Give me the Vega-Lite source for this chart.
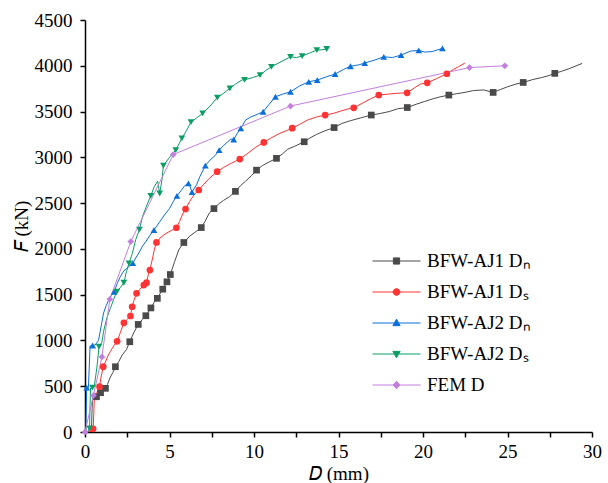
{
  "$schema": "https://vega.github.io/schema/vega-lite/v6.json",
  "width": 507,
  "height": 412,
  "autosize": {"type": "none"},
  "padding": {"left": 85, "top": 20, "right": 16, "bottom": 51},
  "background": "white",
  "config": {"view": {"stroke": null}},
  "datasets": {
    "curves": [
      {"series": "BFW-AJ1 Dₙ", "D": 0, "F": 0},
      {"series": "BFW-AJ1 Dₙ", "D": 0.38, "F": 0},
      {"series": "BFW-AJ1 Dₙ", "D": 0.42, "F": 250},
      {"series": "BFW-AJ1 Dₙ", "D": 0.45, "F": 385},
      {"series": "BFW-AJ1 Dₙ", "D": 0.68, "F": 385},
      {"series": "BFW-AJ1 Dₙ", "D": 0.8, "F": 400},
      {"series": "BFW-AJ1 Dₙ", "D": 0.92, "F": 429},
      {"series": "BFW-AJ1 Dₙ", "D": 1.04, "F": 440},
      {"series": "BFW-AJ1 Dₙ", "D": 1.21, "F": 477},
      {"series": "BFW-AJ1 Dₙ", "D": 1.33, "F": 520},
      {"series": "BFW-AJ1 Dₙ", "D": 1.5, "F": 600},
      {"series": "BFW-AJ1 Dₙ", "D": 1.65, "F": 650},
      {"series": "BFW-AJ1 Dₙ", "D": 1.8, "F": 713},
      {"series": "BFW-AJ1 Dₙ", "D": 2.0, "F": 770},
      {"series": "BFW-AJ1 Dₙ", "D": 2.2, "F": 840},
      {"series": "BFW-AJ1 Dₙ", "D": 2.45, "F": 900},
      {"series": "BFW-AJ1 Dₙ", "D": 2.65, "F": 986},
      {"series": "BFW-AJ1 Dₙ", "D": 2.9, "F": 1090},
      {"series": "BFW-AJ1 Dₙ", "D": 3.15, "F": 1175},
      {"series": "BFW-AJ1 Dₙ", "D": 3.4, "F": 1230},
      {"series": "BFW-AJ1 Dₙ", "D": 3.6, "F": 1270},
      {"series": "BFW-AJ1 Dₙ", "D": 3.9, "F": 1355},
      {"series": "BFW-AJ1 Dₙ", "D": 4.1, "F": 1420},
      {"series": "BFW-AJ1 Dₙ", "D": 4.28, "F": 1460},
      {"series": "BFW-AJ1 Dₙ", "D": 4.6, "F": 1560},
      {"series": "BFW-AJ1 Dₙ", "D": 4.85, "F": 1640},
      {"series": "BFW-AJ1 Dₙ", "D": 5.05, "F": 1720},
      {"series": "BFW-AJ1 Dₙ", "D": 5.3, "F": 1860},
      {"series": "BFW-AJ1 Dₙ", "D": 5.55, "F": 1990},
      {"series": "BFW-AJ1 Dₙ", "D": 5.85, "F": 2070},
      {"series": "BFW-AJ1 Dₙ", "D": 6.2, "F": 2140},
      {"series": "BFW-AJ1 Dₙ", "D": 6.5, "F": 2180},
      {"series": "BFW-AJ1 Dₙ", "D": 6.88, "F": 2233},
      {"series": "BFW-AJ1 Dₙ", "D": 7.1, "F": 2300},
      {"series": "BFW-AJ1 Dₙ", "D": 7.35, "F": 2390},
      {"series": "BFW-AJ1 Dₙ", "D": 7.63, "F": 2440},
      {"series": "BFW-AJ1 Dₙ", "D": 7.9, "F": 2490},
      {"series": "BFW-AJ1 Dₙ", "D": 8.2, "F": 2530},
      {"series": "BFW-AJ1 Dₙ", "D": 8.55, "F": 2570},
      {"series": "BFW-AJ1 Dₙ", "D": 8.9, "F": 2628},
      {"series": "BFW-AJ1 Dₙ", "D": 9.2, "F": 2690},
      {"series": "BFW-AJ1 Dₙ", "D": 9.5, "F": 2740},
      {"series": "BFW-AJ1 Dₙ", "D": 9.85, "F": 2800},
      {"series": "BFW-AJ1 Dₙ", "D": 10.15, "F": 2860},
      {"series": "BFW-AJ1 Dₙ", "D": 10.5, "F": 2910},
      {"series": "BFW-AJ1 Dₙ", "D": 10.9, "F": 2950},
      {"series": "BFW-AJ1 Dₙ", "D": 11.33, "F": 2989},
      {"series": "BFW-AJ1 Dₙ", "D": 11.7, "F": 3040},
      {"series": "BFW-AJ1 Dₙ", "D": 12.0, "F": 3090},
      {"series": "BFW-AJ1 Dₙ", "D": 12.4, "F": 3120},
      {"series": "BFW-AJ1 Dₙ", "D": 12.97, "F": 3170},
      {"series": "BFW-AJ1 Dₙ", "D": 13.3, "F": 3210},
      {"series": "BFW-AJ1 Dₙ", "D": 13.7, "F": 3250},
      {"series": "BFW-AJ1 Dₙ", "D": 14.2, "F": 3290},
      {"series": "BFW-AJ1 Dₙ", "D": 14.74, "F": 3325},
      {"series": "BFW-AJ1 Dₙ", "D": 15.2, "F": 3370},
      {"series": "BFW-AJ1 Dₙ", "D": 15.7, "F": 3400},
      {"series": "BFW-AJ1 Dₙ", "D": 16.3, "F": 3430},
      {"series": "BFW-AJ1 Dₙ", "D": 16.94, "F": 3462},
      {"series": "BFW-AJ1 Dₙ", "D": 17.5, "F": 3480},
      {"series": "BFW-AJ1 Dₙ", "D": 18.0, "F": 3500},
      {"series": "BFW-AJ1 Dₙ", "D": 18.5, "F": 3530},
      {"series": "BFW-AJ1 Dₙ", "D": 19.07, "F": 3544},
      {"series": "BFW-AJ1 Dₙ", "D": 19.6, "F": 3580},
      {"series": "BFW-AJ1 Dₙ", "D": 20.1, "F": 3610},
      {"series": "BFW-AJ1 Dₙ", "D": 20.6, "F": 3640},
      {"series": "BFW-AJ1 Dₙ", "D": 21.0, "F": 3660},
      {"series": "BFW-AJ1 Dₙ", "D": 21.53, "F": 3680},
      {"series": "BFW-AJ1 Dₙ", "D": 22.0, "F": 3695},
      {"series": "BFW-AJ1 Dₙ", "D": 22.5, "F": 3710},
      {"series": "BFW-AJ1 Dₙ", "D": 23.0, "F": 3730},
      {"series": "BFW-AJ1 Dₙ", "D": 23.6, "F": 3736},
      {"series": "BFW-AJ1 Dₙ", "D": 24.15, "F": 3709},
      {"series": "BFW-AJ1 Dₙ", "D": 24.6, "F": 3742},
      {"series": "BFW-AJ1 Dₙ", "D": 25.0, "F": 3770},
      {"series": "BFW-AJ1 Dₙ", "D": 25.5, "F": 3800},
      {"series": "BFW-AJ1 Dₙ", "D": 25.93, "F": 3818},
      {"series": "BFW-AJ1 Dₙ", "D": 26.5, "F": 3850},
      {"series": "BFW-AJ1 Dₙ", "D": 27.0, "F": 3870},
      {"series": "BFW-AJ1 Dₙ", "D": 27.4, "F": 3890},
      {"series": "BFW-AJ1 Dₙ", "D": 27.8, "F": 3917},
      {"series": "BFW-AJ1 Dₙ", "D": 28.2, "F": 3940},
      {"series": "BFW-AJ1 Dₙ", "D": 28.6, "F": 3965},
      {"series": "BFW-AJ1 Dₙ", "D": 29.0, "F": 3995},
      {"series": "BFW-AJ1 Dₙ", "D": 29.42, "F": 4026},

      {"series": "BFW-AJ1 Dₛ", "D": 0, "F": 0},
      {"series": "BFW-AJ1 Dₛ", "D": 0.3, "F": 0},
      {"series": "BFW-AJ1 Dₛ", "D": 0.48, "F": 35},
      {"series": "BFW-AJ1 Dₛ", "D": 0.52, "F": 200},
      {"series": "BFW-AJ1 Dₛ", "D": 0.56, "F": 400},
      {"series": "BFW-AJ1 Dₛ", "D": 0.7, "F": 430},
      {"series": "BFW-AJ1 Dₛ", "D": 0.86, "F": 495},
      {"series": "BFW-AJ1 Dₛ", "D": 0.95, "F": 600},
      {"series": "BFW-AJ1 Dₛ", "D": 1.08, "F": 713},
      {"series": "BFW-AJ1 Dₛ", "D": 1.2, "F": 760},
      {"series": "BFW-AJ1 Dₛ", "D": 1.35, "F": 830},
      {"series": "BFW-AJ1 Dₛ", "D": 1.5, "F": 880},
      {"series": "BFW-AJ1 Dₛ", "D": 1.7, "F": 940},
      {"series": "BFW-AJ1 Dₛ", "D": 1.9, "F": 990},
      {"series": "BFW-AJ1 Dₛ", "D": 2.1, "F": 1090},
      {"series": "BFW-AJ1 Dₛ", "D": 2.3, "F": 1193},
      {"series": "BFW-AJ1 Dₛ", "D": 2.5, "F": 1230},
      {"series": "BFW-AJ1 Dₛ", "D": 2.69, "F": 1267},
      {"series": "BFW-AJ1 Dₛ", "D": 2.79, "F": 1368},
      {"series": "BFW-AJ1 Dₛ", "D": 2.9, "F": 1440},
      {"series": "BFW-AJ1 Dₛ", "D": 3.05, "F": 1515},
      {"series": "BFW-AJ1 Dₛ", "D": 3.25, "F": 1560},
      {"series": "BFW-AJ1 Dₛ", "D": 3.48, "F": 1605},
      {"series": "BFW-AJ1 Dₛ", "D": 3.64, "F": 1631},
      {"series": "BFW-AJ1 Dₛ", "D": 3.75, "F": 1720},
      {"series": "BFW-AJ1 Dₛ", "D": 3.84, "F": 1769},
      {"series": "BFW-AJ1 Dₛ", "D": 4.0, "F": 1900},
      {"series": "BFW-AJ1 Dₛ", "D": 4.1, "F": 1990},
      {"series": "BFW-AJ1 Dₛ", "D": 4.23, "F": 2071},
      {"series": "BFW-AJ1 Dₛ", "D": 4.5, "F": 2130},
      {"series": "BFW-AJ1 Dₛ", "D": 4.8, "F": 2170},
      {"series": "BFW-AJ1 Dₛ", "D": 5.1, "F": 2200},
      {"series": "BFW-AJ1 Dₛ", "D": 5.41, "F": 2231},
      {"series": "BFW-AJ1 Dₛ", "D": 5.6, "F": 2300},
      {"series": "BFW-AJ1 Dₛ", "D": 5.8, "F": 2390},
      {"series": "BFW-AJ1 Dₛ", "D": 5.95, "F": 2435},
      {"series": "BFW-AJ1 Dₛ", "D": 6.2, "F": 2520},
      {"series": "BFW-AJ1 Dₛ", "D": 6.45, "F": 2590},
      {"series": "BFW-AJ1 Dₛ", "D": 6.73, "F": 2643},
      {"series": "BFW-AJ1 Dₛ", "D": 7.0, "F": 2700},
      {"series": "BFW-AJ1 Dₛ", "D": 7.3, "F": 2760},
      {"series": "BFW-AJ1 Dₛ", "D": 7.6, "F": 2810},
      {"series": "BFW-AJ1 Dₛ", "D": 7.82, "F": 2843},
      {"series": "BFW-AJ1 Dₛ", "D": 8.2, "F": 2890},
      {"series": "BFW-AJ1 Dₛ", "D": 8.6, "F": 2930},
      {"series": "BFW-AJ1 Dₛ", "D": 9.16, "F": 2981},
      {"series": "BFW-AJ1 Dₛ", "D": 9.6, "F": 3040},
      {"series": "BFW-AJ1 Dₛ", "D": 10.1, "F": 3110},
      {"series": "BFW-AJ1 Dₛ", "D": 10.58, "F": 3163},
      {"series": "BFW-AJ1 Dₛ", "D": 11.0, "F": 3210},
      {"series": "BFW-AJ1 Dₛ", "D": 11.5, "F": 3260},
      {"series": "BFW-AJ1 Dₛ", "D": 11.9, "F": 3290},
      {"series": "BFW-AJ1 Dₛ", "D": 12.26, "F": 3318},
      {"series": "BFW-AJ1 Dₛ", "D": 12.7, "F": 3360},
      {"series": "BFW-AJ1 Dₛ", "D": 13.2, "F": 3410},
      {"series": "BFW-AJ1 Dₛ", "D": 13.7, "F": 3440},
      {"series": "BFW-AJ1 Dₛ", "D": 14.21, "F": 3462},
      {"series": "BFW-AJ1 Dₛ", "D": 14.7, "F": 3480},
      {"series": "BFW-AJ1 Dₛ", "D": 15.2, "F": 3510},
      {"series": "BFW-AJ1 Dₛ", "D": 15.6, "F": 3530},
      {"series": "BFW-AJ1 Dₛ", "D": 15.9, "F": 3541},
      {"series": "BFW-AJ1 Dₛ", "D": 16.4, "F": 3590},
      {"series": "BFW-AJ1 Dₛ", "D": 16.9, "F": 3640},
      {"series": "BFW-AJ1 Dₛ", "D": 17.38, "F": 3680},
      {"series": "BFW-AJ1 Dₛ", "D": 17.9, "F": 3690},
      {"series": "BFW-AJ1 Dₛ", "D": 18.5, "F": 3700},
      {"series": "BFW-AJ1 Dₛ", "D": 19.06, "F": 3705},
      {"series": "BFW-AJ1 Dₛ", "D": 19.5, "F": 3760},
      {"series": "BFW-AJ1 Dₛ", "D": 19.85, "F": 3800},
      {"series": "BFW-AJ1 Dₛ", "D": 20.25, "F": 3814},
      {"series": "BFW-AJ1 Dₛ", "D": 20.8, "F": 3860},
      {"series": "BFW-AJ1 Dₛ", "D": 21.41, "F": 3913},
      {"series": "BFW-AJ1 Dₛ", "D": 21.8, "F": 3960},
      {"series": "BFW-AJ1 Dₛ", "D": 22.1, "F": 3990},
      {"series": "BFW-AJ1 Dₛ", "D": 22.48, "F": 4030},

      {"series": "BFW-AJ2 Dₙ", "D": 0, "F": 0},
      {"series": "BFW-AJ2 Dₙ", "D": 0.05, "F": 0},
      {"series": "BFW-AJ2 Dₙ", "D": 0.08, "F": 300},
      {"series": "BFW-AJ2 Dₙ", "D": 0.1, "F": 484},
      {"series": "BFW-AJ2 Dₙ", "D": 0.2, "F": 484},
      {"series": "BFW-AJ2 Dₙ", "D": 0.25, "F": 700},
      {"series": "BFW-AJ2 Dₙ", "D": 0.3, "F": 940},
      {"series": "BFW-AJ2 Dₙ", "D": 0.45, "F": 945},
      {"series": "BFW-AJ2 Dₙ", "D": 0.6, "F": 950},
      {"series": "BFW-AJ2 Dₙ", "D": 0.8, "F": 1000},
      {"series": "BFW-AJ2 Dₙ", "D": 0.9, "F": 1100},
      {"series": "BFW-AJ2 Dₙ", "D": 1.0, "F": 1200},
      {"series": "BFW-AJ2 Dₙ", "D": 1.1, "F": 1300},
      {"series": "BFW-AJ2 Dₙ", "D": 1.25, "F": 1380},
      {"series": "BFW-AJ2 Dₙ", "D": 1.4, "F": 1440},
      {"series": "BFW-AJ2 Dₙ", "D": 1.55, "F": 1490},
      {"series": "BFW-AJ2 Dₙ", "D": 1.72, "F": 1530},
      {"series": "BFW-AJ2 Dₙ", "D": 1.9, "F": 1620},
      {"series": "BFW-AJ2 Dₙ", "D": 2.1, "F": 1700},
      {"series": "BFW-AJ2 Dₙ", "D": 2.3, "F": 1760},
      {"series": "BFW-AJ2 Dₙ", "D": 2.55, "F": 1800},
      {"series": "BFW-AJ2 Dₙ", "D": 2.83, "F": 1845},
      {"series": "BFW-AJ2 Dₙ", "D": 3.0, "F": 1900},
      {"series": "BFW-AJ2 Dₙ", "D": 3.2, "F": 1960},
      {"series": "BFW-AJ2 Dₙ", "D": 3.4, "F": 2030},
      {"series": "BFW-AJ2 Dₙ", "D": 3.6, "F": 2080},
      {"series": "BFW-AJ2 Dₙ", "D": 3.85, "F": 2150},
      {"series": "BFW-AJ2 Dₙ", "D": 4.08, "F": 2206},
      {"series": "BFW-AJ2 Dₙ", "D": 4.4, "F": 2290},
      {"series": "BFW-AJ2 Dₙ", "D": 4.7, "F": 2370},
      {"series": "BFW-AJ2 Dₙ", "D": 5.0, "F": 2440},
      {"series": "BFW-AJ2 Dₙ", "D": 5.2, "F": 2510},
      {"series": "BFW-AJ2 Dₙ", "D": 5.44, "F": 2580},
      {"series": "BFW-AJ2 Dₙ", "D": 5.7, "F": 2640},
      {"series": "BFW-AJ2 Dₙ", "D": 5.9, "F": 2690},
      {"series": "BFW-AJ2 Dₙ", "D": 6.12, "F": 2716},
      {"series": "BFW-AJ2 Dₙ", "D": 6.22, "F": 2680},
      {"series": "BFW-AJ2 Dₙ", "D": 6.33, "F": 2620},
      {"series": "BFW-AJ2 Dₙ", "D": 6.6, "F": 2700},
      {"series": "BFW-AJ2 Dₙ", "D": 6.8, "F": 2790},
      {"series": "BFW-AJ2 Dₙ", "D": 7.12, "F": 2910},
      {"series": "BFW-AJ2 Dₙ", "D": 7.4, "F": 2970},
      {"series": "BFW-AJ2 Dₙ", "D": 7.7, "F": 3020},
      {"series": "BFW-AJ2 Dₙ", "D": 7.94, "F": 3079},
      {"series": "BFW-AJ2 Dₙ", "D": 8.2, "F": 3130},
      {"series": "BFW-AJ2 Dₙ", "D": 8.45, "F": 3170},
      {"series": "BFW-AJ2 Dₙ", "D": 8.63, "F": 3200},
      {"series": "BFW-AJ2 Dₙ", "D": 8.8, "F": 3195},
      {"series": "BFW-AJ2 Dₙ", "D": 9.0, "F": 3260},
      {"series": "BFW-AJ2 Dₙ", "D": 9.22, "F": 3316},
      {"series": "BFW-AJ2 Dₙ", "D": 9.5, "F": 3407},
      {"series": "BFW-AJ2 Dₙ", "D": 9.8, "F": 3440},
      {"series": "BFW-AJ2 Dₙ", "D": 10.2, "F": 3470},
      {"series": "BFW-AJ2 Dₙ", "D": 10.54, "F": 3498},
      {"series": "BFW-AJ2 Dₙ", "D": 10.9, "F": 3580},
      {"series": "BFW-AJ2 Dₙ", "D": 11.27, "F": 3662},
      {"series": "BFW-AJ2 Dₙ", "D": 11.7, "F": 3690},
      {"series": "BFW-AJ2 Dₙ", "D": 12.16, "F": 3716},
      {"series": "BFW-AJ2 Dₙ", "D": 12.7, "F": 3780},
      {"series": "BFW-AJ2 Dₙ", "D": 13.24, "F": 3825},
      {"series": "BFW-AJ2 Dₙ", "D": 13.74, "F": 3844},
      {"series": "BFW-AJ2 Dₙ", "D": 14.3, "F": 3880},
      {"series": "BFW-AJ2 Dₙ", "D": 14.8, "F": 3910},
      {"series": "BFW-AJ2 Dₙ", "D": 15.3, "F": 3960},
      {"series": "BFW-AJ2 Dₙ", "D": 15.71, "F": 3995},
      {"series": "BFW-AJ2 Dₙ", "D": 16.2, "F": 4010},
      {"series": "BFW-AJ2 Dₙ", "D": 16.55, "F": 4030},
      {"series": "BFW-AJ2 Dₙ", "D": 17.1, "F": 4060},
      {"series": "BFW-AJ2 Dₙ", "D": 17.68, "F": 4098},
      {"series": "BFW-AJ2 Dₙ", "D": 18.2, "F": 4090},
      {"series": "BFW-AJ2 Dₙ", "D": 18.7, "F": 4117},
      {"series": "BFW-AJ2 Dₙ", "D": 19.26, "F": 4160},
      {"series": "BFW-AJ2 Dₙ", "D": 19.75, "F": 4168},
      {"series": "BFW-AJ2 Dₙ", "D": 20.1, "F": 4150},
      {"series": "BFW-AJ2 Dₙ", "D": 20.54, "F": 4155},
      {"series": "BFW-AJ2 Dₙ", "D": 21.15, "F": 4190},

      {"series": "BFW-AJ2 Dₛ", "D": 0, "F": 0},
      {"series": "BFW-AJ2 Dₛ", "D": 0.15, "F": 0},
      {"series": "BFW-AJ2 Dₛ", "D": 0.27, "F": 40},
      {"series": "BFW-AJ2 Dₛ", "D": 0.3, "F": 300},
      {"series": "BFW-AJ2 Dₛ", "D": 0.33, "F": 480},
      {"series": "BFW-AJ2 Dₛ", "D": 0.44, "F": 485},
      {"series": "BFW-AJ2 Dₛ", "D": 0.55, "F": 500},
      {"series": "BFW-AJ2 Dₛ", "D": 0.7, "F": 700},
      {"series": "BFW-AJ2 Dₛ", "D": 0.83, "F": 932},
      {"series": "BFW-AJ2 Dₛ", "D": 1.0, "F": 980},
      {"series": "BFW-AJ2 Dₛ", "D": 1.1, "F": 1100},
      {"series": "BFW-AJ2 Dₛ", "D": 1.3, "F": 1250},
      {"series": "BFW-AJ2 Dₛ", "D": 1.5, "F": 1350},
      {"series": "BFW-AJ2 Dₛ", "D": 1.7, "F": 1450},
      {"series": "BFW-AJ2 Dₛ", "D": 1.88, "F": 1532},
      {"series": "BFW-AJ2 Dₛ", "D": 2.1, "F": 1580},
      {"series": "BFW-AJ2 Dₛ", "D": 2.3, "F": 1630},
      {"series": "BFW-AJ2 Dₛ", "D": 2.45, "F": 1750},
      {"series": "BFW-AJ2 Dₛ", "D": 2.6, "F": 1842},
      {"series": "BFW-AJ2 Dₛ", "D": 2.8, "F": 1950},
      {"series": "BFW-AJ2 Dₛ", "D": 3.0, "F": 2100},
      {"series": "BFW-AJ2 Dₛ", "D": 3.22, "F": 2210},
      {"series": "BFW-AJ2 Dₛ", "D": 3.4, "F": 2350},
      {"series": "BFW-AJ2 Dₛ", "D": 3.6, "F": 2450},
      {"series": "BFW-AJ2 Dₛ", "D": 3.89, "F": 2580},
      {"series": "BFW-AJ2 Dₛ", "D": 4.1, "F": 2680},
      {"series": "BFW-AJ2 Dₛ", "D": 4.3, "F": 2740},
      {"series": "BFW-AJ2 Dₛ", "D": 4.42, "F": 2605},
      {"series": "BFW-AJ2 Dₛ", "D": 4.55, "F": 2750},
      {"series": "BFW-AJ2 Dₛ", "D": 4.64, "F": 2910},
      {"series": "BFW-AJ2 Dₛ", "D": 5.0, "F": 3000},
      {"series": "BFW-AJ2 Dₛ", "D": 5.37, "F": 3079},
      {"series": "BFW-AJ2 Dₛ", "D": 5.73, "F": 3207},
      {"series": "BFW-AJ2 Dₛ", "D": 6.0, "F": 3290},
      {"series": "BFW-AJ2 Dₛ", "D": 6.27, "F": 3385},
      {"series": "BFW-AJ2 Dₛ", "D": 6.6, "F": 3430},
      {"series": "BFW-AJ2 Dₛ", "D": 6.96, "F": 3480},
      {"series": "BFW-AJ2 Dₛ", "D": 7.4, "F": 3560},
      {"series": "BFW-AJ2 Dₛ", "D": 7.83, "F": 3653},
      {"series": "BFW-AJ2 Dₛ", "D": 8.2, "F": 3700},
      {"series": "BFW-AJ2 Dₛ", "D": 8.57, "F": 3753},
      {"series": "BFW-AJ2 Dₛ", "D": 8.9, "F": 3800},
      {"series": "BFW-AJ2 Dₛ", "D": 9.3, "F": 3846},
      {"series": "BFW-AJ2 Dₛ", "D": 9.44, "F": 3846},
      {"series": "BFW-AJ2 Dₛ", "D": 9.9, "F": 3870},
      {"series": "BFW-AJ2 Dₛ", "D": 10.36, "F": 3898},
      {"series": "BFW-AJ2 Dₛ", "D": 10.7, "F": 3950},
      {"series": "BFW-AJ2 Dₛ", "D": 11.03, "F": 3989},
      {"series": "BFW-AJ2 Dₛ", "D": 11.6, "F": 4044},
      {"series": "BFW-AJ2 Dₛ", "D": 12.16, "F": 4098},
      {"series": "BFW-AJ2 Dₛ", "D": 12.5, "F": 4090},
      {"series": "BFW-AJ2 Dₛ", "D": 12.85, "F": 4106},
      {"series": "BFW-AJ2 Dₛ", "D": 13.3, "F": 4140},
      {"series": "BFW-AJ2 Dₛ", "D": 13.72, "F": 4171},
      {"series": "BFW-AJ2 Dₛ", "D": 14.0, "F": 4175},
      {"series": "BFW-AJ2 Dₛ", "D": 14.4, "F": 4185},

      {"series": "FEM D", "D": 0, "F": 0},
      {"series": "FEM D", "D": 0.5, "F": 400},
      {"series": "FEM D", "D": 1.0, "F": 820},
      {"series": "FEM D", "D": 1.47, "F": 1450},
      {"series": "FEM D", "D": 2.71, "F": 2080},
      {"series": "FEM D", "D": 5.22, "F": 3030},
      {"series": "FEM D", "D": 12.16, "F": 3560},
      {"series": "FEM D", "D": 22.75, "F": 3980},
      {"series": "FEM D", "D": 24.84, "F": 4000}
    ],
    "markers": [
      {"series": "BFW-AJ1 Dₙ", "D": 0.68, "F": 385},
      {"series": "BFW-AJ1 Dₙ", "D": 0.92, "F": 429},
      {"series": "BFW-AJ1 Dₙ", "D": 1.21, "F": 477},
      {"series": "BFW-AJ1 Dₙ", "D": 1.8, "F": 713},
      {"series": "BFW-AJ1 Dₙ", "D": 2.65, "F": 986},
      {"series": "BFW-AJ1 Dₙ", "D": 3.15, "F": 1175},
      {"series": "BFW-AJ1 Dₙ", "D": 3.6, "F": 1270},
      {"series": "BFW-AJ1 Dₙ", "D": 3.9, "F": 1355},
      {"series": "BFW-AJ1 Dₙ", "D": 4.28, "F": 1460},
      {"series": "BFW-AJ1 Dₙ", "D": 4.6, "F": 1560},
      {"series": "BFW-AJ1 Dₙ", "D": 4.85, "F": 1640},
      {"series": "BFW-AJ1 Dₙ", "D": 5.05, "F": 1720},
      {"series": "BFW-AJ1 Dₙ", "D": 5.85, "F": 2070},
      {"series": "BFW-AJ1 Dₙ", "D": 6.88, "F": 2233},
      {"series": "BFW-AJ1 Dₙ", "D": 7.63, "F": 2440},
      {"series": "BFW-AJ1 Dₙ", "D": 8.9, "F": 2628},
      {"series": "BFW-AJ1 Dₙ", "D": 10.15, "F": 2860},
      {"series": "BFW-AJ1 Dₙ", "D": 11.33, "F": 2989},
      {"series": "BFW-AJ1 Dₙ", "D": 12.97, "F": 3170},
      {"series": "BFW-AJ1 Dₙ", "D": 14.74, "F": 3325},
      {"series": "BFW-AJ1 Dₙ", "D": 16.94, "F": 3462},
      {"series": "BFW-AJ1 Dₙ", "D": 19.07, "F": 3544},
      {"series": "BFW-AJ1 Dₙ", "D": 21.53, "F": 3680},
      {"series": "BFW-AJ1 Dₙ", "D": 24.15, "F": 3709},
      {"series": "BFW-AJ1 Dₙ", "D": 25.93, "F": 3818},
      {"series": "BFW-AJ1 Dₙ", "D": 27.8, "F": 3917},

      {"series": "BFW-AJ1 Dₛ", "D": 0.48, "F": 35},
      {"series": "BFW-AJ1 Dₛ", "D": 0.86, "F": 495},
      {"series": "BFW-AJ1 Dₛ", "D": 1.08, "F": 713},
      {"series": "BFW-AJ1 Dₛ", "D": 1.9, "F": 990},
      {"series": "BFW-AJ1 Dₛ", "D": 2.3, "F": 1193},
      {"series": "BFW-AJ1 Dₛ", "D": 2.69, "F": 1267},
      {"series": "BFW-AJ1 Dₛ", "D": 2.79, "F": 1368},
      {"series": "BFW-AJ1 Dₛ", "D": 3.05, "F": 1515},
      {"series": "BFW-AJ1 Dₛ", "D": 3.48, "F": 1605},
      {"series": "BFW-AJ1 Dₛ", "D": 3.64, "F": 1631},
      {"series": "BFW-AJ1 Dₛ", "D": 3.84, "F": 1769},
      {"series": "BFW-AJ1 Dₛ", "D": 4.23, "F": 2071},
      {"series": "BFW-AJ1 Dₛ", "D": 5.41, "F": 2231},
      {"series": "BFW-AJ1 Dₛ", "D": 5.95, "F": 2435},
      {"series": "BFW-AJ1 Dₛ", "D": 6.73, "F": 2643},
      {"series": "BFW-AJ1 Dₛ", "D": 7.82, "F": 2843},
      {"series": "BFW-AJ1 Dₛ", "D": 9.16, "F": 2981},
      {"series": "BFW-AJ1 Dₛ", "D": 10.58, "F": 3163},
      {"series": "BFW-AJ1 Dₛ", "D": 12.26, "F": 3318},
      {"series": "BFW-AJ1 Dₛ", "D": 14.21, "F": 3462},
      {"series": "BFW-AJ1 Dₛ", "D": 15.9, "F": 3541},
      {"series": "BFW-AJ1 Dₛ", "D": 17.38, "F": 3680},
      {"series": "BFW-AJ1 Dₛ", "D": 19.06, "F": 3705},
      {"series": "BFW-AJ1 Dₛ", "D": 20.25, "F": 3814},
      {"series": "BFW-AJ1 Dₛ", "D": 21.41, "F": 3913},

      {"series": "BFW-AJ2 Dₙ", "D": 0.1, "F": 484},
      {"series": "BFW-AJ2 Dₙ", "D": 0.45, "F": 945},
      {"series": "BFW-AJ2 Dₙ", "D": 1.72, "F": 1530},
      {"series": "BFW-AJ2 Dₙ", "D": 2.83, "F": 1845},
      {"series": "BFW-AJ2 Dₙ", "D": 4.08, "F": 2206},
      {"series": "BFW-AJ2 Dₙ", "D": 5.44, "F": 2580},
      {"series": "BFW-AJ2 Dₙ", "D": 6.12, "F": 2716},
      {"series": "BFW-AJ2 Dₙ", "D": 6.33, "F": 2620},
      {"series": "BFW-AJ2 Dₙ", "D": 7.12, "F": 2910},
      {"series": "BFW-AJ2 Dₙ", "D": 7.94, "F": 3079},
      {"series": "BFW-AJ2 Dₙ", "D": 8.8, "F": 3195},
      {"series": "BFW-AJ2 Dₙ", "D": 9.22, "F": 3316},
      {"series": "BFW-AJ2 Dₙ", "D": 10.54, "F": 3498},
      {"series": "BFW-AJ2 Dₙ", "D": 11.27, "F": 3662},
      {"series": "BFW-AJ2 Dₙ", "D": 12.16, "F": 3716},
      {"series": "BFW-AJ2 Dₙ", "D": 13.24, "F": 3825},
      {"series": "BFW-AJ2 Dₙ", "D": 13.74, "F": 3844},
      {"series": "BFW-AJ2 Dₙ", "D": 14.8, "F": 3910},
      {"series": "BFW-AJ2 Dₙ", "D": 15.71, "F": 3995},
      {"series": "BFW-AJ2 Dₙ", "D": 16.55, "F": 4030},
      {"series": "BFW-AJ2 Dₙ", "D": 17.68, "F": 4098},
      {"series": "BFW-AJ2 Dₙ", "D": 18.7, "F": 4117},
      {"series": "BFW-AJ2 Dₙ", "D": 19.75, "F": 4168},
      {"series": "BFW-AJ2 Dₙ", "D": 21.15, "F": 4190},

      {"series": "BFW-AJ2 Dₛ", "D": 0.27, "F": 40},
      {"series": "BFW-AJ2 Dₛ", "D": 0.44, "F": 485},
      {"series": "BFW-AJ2 Dₛ", "D": 0.83, "F": 932},
      {"series": "BFW-AJ2 Dₛ", "D": 1.88, "F": 1532},
      {"series": "BFW-AJ2 Dₛ", "D": 2.3, "F": 1630},
      {"series": "BFW-AJ2 Dₛ", "D": 2.6, "F": 1842},
      {"series": "BFW-AJ2 Dₛ", "D": 3.22, "F": 2210},
      {"series": "BFW-AJ2 Dₛ", "D": 3.89, "F": 2580},
      {"series": "BFW-AJ2 Dₛ", "D": 4.42, "F": 2605},
      {"series": "BFW-AJ2 Dₛ", "D": 4.64, "F": 2910},
      {"series": "BFW-AJ2 Dₛ", "D": 5.37, "F": 3079},
      {"series": "BFW-AJ2 Dₛ", "D": 5.73, "F": 3207},
      {"series": "BFW-AJ2 Dₛ", "D": 6.27, "F": 3385},
      {"series": "BFW-AJ2 Dₛ", "D": 6.96, "F": 3480},
      {"series": "BFW-AJ2 Dₛ", "D": 7.83, "F": 3653},
      {"series": "BFW-AJ2 Dₛ", "D": 8.57, "F": 3753},
      {"series": "BFW-AJ2 Dₛ", "D": 9.44, "F": 3846},
      {"series": "BFW-AJ2 Dₛ", "D": 10.36, "F": 3898},
      {"series": "BFW-AJ2 Dₛ", "D": 11.03, "F": 3989},
      {"series": "BFW-AJ2 Dₛ", "D": 12.16, "F": 4098},
      {"series": "BFW-AJ2 Dₛ", "D": 12.85, "F": 4106},
      {"series": "BFW-AJ2 Dₛ", "D": 13.72, "F": 4171},
      {"series": "BFW-AJ2 Dₛ", "D": 14.3, "F": 4183},

      {"series": "FEM D", "D": 0, "F": 0},
      {"series": "FEM D", "D": 0.5, "F": 400},
      {"series": "FEM D", "D": 1.0, "F": 820},
      {"series": "FEM D", "D": 1.47, "F": 1450},
      {"series": "FEM D", "D": 2.71, "F": 2080},
      {"series": "FEM D", "D": 5.22, "F": 3030},
      {"series": "FEM D", "D": 12.16, "F": 3560},
      {"series": "FEM D", "D": 22.75, "F": 3980},
      {"series": "FEM D", "D": 24.84, "F": 4000}
    ]
  },
  "layer": [
    {
      "data": {"name": "curves"},
      "mark": {"type": "line", "strokeWidth": 1, "clip": true},
      "encoding": {
        "x": {
          "field": "D", "type": "quantitative",
          "scale": {"domain": [0, 30], "nice": false, "zero": false},
          "axis": {
            "orient": "bottom",
            "title": "𝐷 (mm)",
            "values": [0, 2.5, 5, 7.5, 10, 12.5, 15, 17.5, 20, 22.5, 25, 27.5, 30],
            "labelExpr": "datum.value % 5 === 0 ? datum.label : ''",
            "ticks": true,
            "tickSize": 5,
            "tickColor": "black", "tickWidth": 1.5,
            "grid": false,
            "domainColor": "black", "domainWidth": 1.5,
            "labelFont": "Liberation Serif", "labelFontSize": 19, "labelColor": "black",
            "labelPadding": 5, "labelOverlap": false, "labelFlush": false, "labelBound": false,
            "titleFont": "Liberation Serif", "titleFontSize": 19, "titleFontWeight": "normal", "titleColor": "black",
            "titlePadding": 3
          }
        },
        "y": {
          "field": "F", "type": "quantitative",
          "scale": {"domain": [0, 4500], "nice": false},
          "axis": {
            "orient": "left",
            "title": "𝐹 (kN)",
            "values": [0, 250, 500, 750, 1000, 1250, 1500, 1750, 2000, 2250, 2500, 2750, 3000, 3250, 3500, 3750, 4000, 4250, 4500],
            "labelExpr": "datum.value % 500 === 0 ? datum.label : ''",
            "format": "d",
            "ticks": true,
            "tickSize": 5,
            "tickColor": "black", "tickWidth": 1.5,
            "grid": false,
            "domainColor": "black", "domainWidth": 1.5,
            "labelFont": "Liberation Serif", "labelFontSize": 19, "labelColor": "black",
            "labelPadding": 8, "labelOverlap": false, "labelFlush": false, "labelBound": false,
            "titleFont": "Liberation Serif", "titleFontSize": 19, "titleFontWeight": "normal", "titleColor": "black",
            "titlePadding": 3
          }
        },
        "color": {
          "field": "series", "type": "nominal",
          "scale": {
            "domain": ["BFW-AJ1 Dₙ", "BFW-AJ1 Dₛ", "BFW-AJ2 Dₙ", "BFW-AJ2 Dₛ", "FEM D"],
            "range": ["#4a4a4a", "#ff3333", "#0b6fdb", "#0a9e64", "#c47ee0"]
          },
          "legend": {
            "title": null,
            "orient": "none",
            "legendX": 287,
            "legendY": 231,
            "padding": 0,
            "rowPadding": 11,
            "clipHeight": 20,
            "symbolSize": 2304,
            "symbolStrokeWidth": 1,
            "labelFont": "Liberation Serif",
            "labelFontSize": 19,
            "labelColor": "black",
            "labelOffset": 6,
            "encode": {
              "symbols": {
                "update": {
                  "shape": {"signal": "['M-1,0H1M-0.13,-0.13H0.13V0.13H-0.13Z','M-1,0H1M-0.14,0A0.14,0.14,0,1,0,0.14,0A0.14,0.14,0,1,0,-0.14,0Z','M-1,0H1M0,-0.16L0.15,0.11H-0.15Z','M-1,0H1M0,0.16L0.15,-0.11H-0.15Z','M-1,0H1M0,-0.16L0.14,0L0,0.16L-0.14,0Z'][indexof(['BFW-AJ1 Dₙ','BFW-AJ1 Dₛ','BFW-AJ2 Dₙ','BFW-AJ2 Dₛ','FEM D'], datum.value)]"},
                  "fill": {"scale": "color", "field": "value"},
                  "stroke": {"scale": "color", "field": "value"},
                  "strokeWidth": {"value": 1},
                  "size": {"value": 2304},
                  "opacity": {"value": 1},
                  "fillOpacity": {"value": 1}
                }
              }
            }
          }
        }
      }
    },
    {
      "data": {"name": "markers"},
      "transform": [{"filter": {"field": "series", "equal": "BFW-AJ1 Dₙ"}}],
      "mark": {"type": "point", "shape": "square", "filled": true, "size": 45, "opacity": 1},
      "encoding": {
        "x": {"field": "D", "type": "quantitative"},
        "y": {"field": "F", "type": "quantitative"},
        "color": {"field": "series", "type": "nominal"}
      }
    },
    {
      "data": {"name": "markers"},
      "transform": [{"filter": {"field": "series", "equal": "BFW-AJ1 Dₛ"}}],
      "mark": {"type": "point", "shape": "circle", "filled": true, "size": 45, "opacity": 1},
      "encoding": {
        "x": {"field": "D", "type": "quantitative"},
        "y": {"field": "F", "type": "quantitative"},
        "color": {"field": "series", "type": "nominal"}
      }
    },
    {
      "data": {"name": "markers"},
      "transform": [{"filter": {"field": "series", "equal": "BFW-AJ2 Dₙ"}}],
      "mark": {"type": "point", "shape": "triangle-up", "filled": true, "size": 45, "opacity": 1},
      "encoding": {
        "x": {"field": "D", "type": "quantitative"},
        "y": {"field": "F", "type": "quantitative"},
        "color": {"field": "series", "type": "nominal"}
      }
    },
    {
      "data": {"name": "markers"},
      "transform": [{"filter": {"field": "series", "equal": "BFW-AJ2 Dₛ"}}],
      "mark": {"type": "point", "shape": "triangle-down", "filled": true, "size": 45, "opacity": 1},
      "encoding": {
        "x": {"field": "D", "type": "quantitative"},
        "y": {"field": "F", "type": "quantitative"},
        "color": {"field": "series", "type": "nominal"}
      }
    },
    {
      "data": {"name": "markers"},
      "transform": [{"filter": {"field": "series", "equal": "FEM D"}}],
      "mark": {"type": "point", "shape": "diamond", "filled": true, "size": 45, "opacity": 1},
      "encoding": {
        "x": {"field": "D", "type": "quantitative"},
        "y": {"field": "F", "type": "quantitative"},
        "color": {"field": "series", "type": "nominal"}
      }
    }
  ]
}
